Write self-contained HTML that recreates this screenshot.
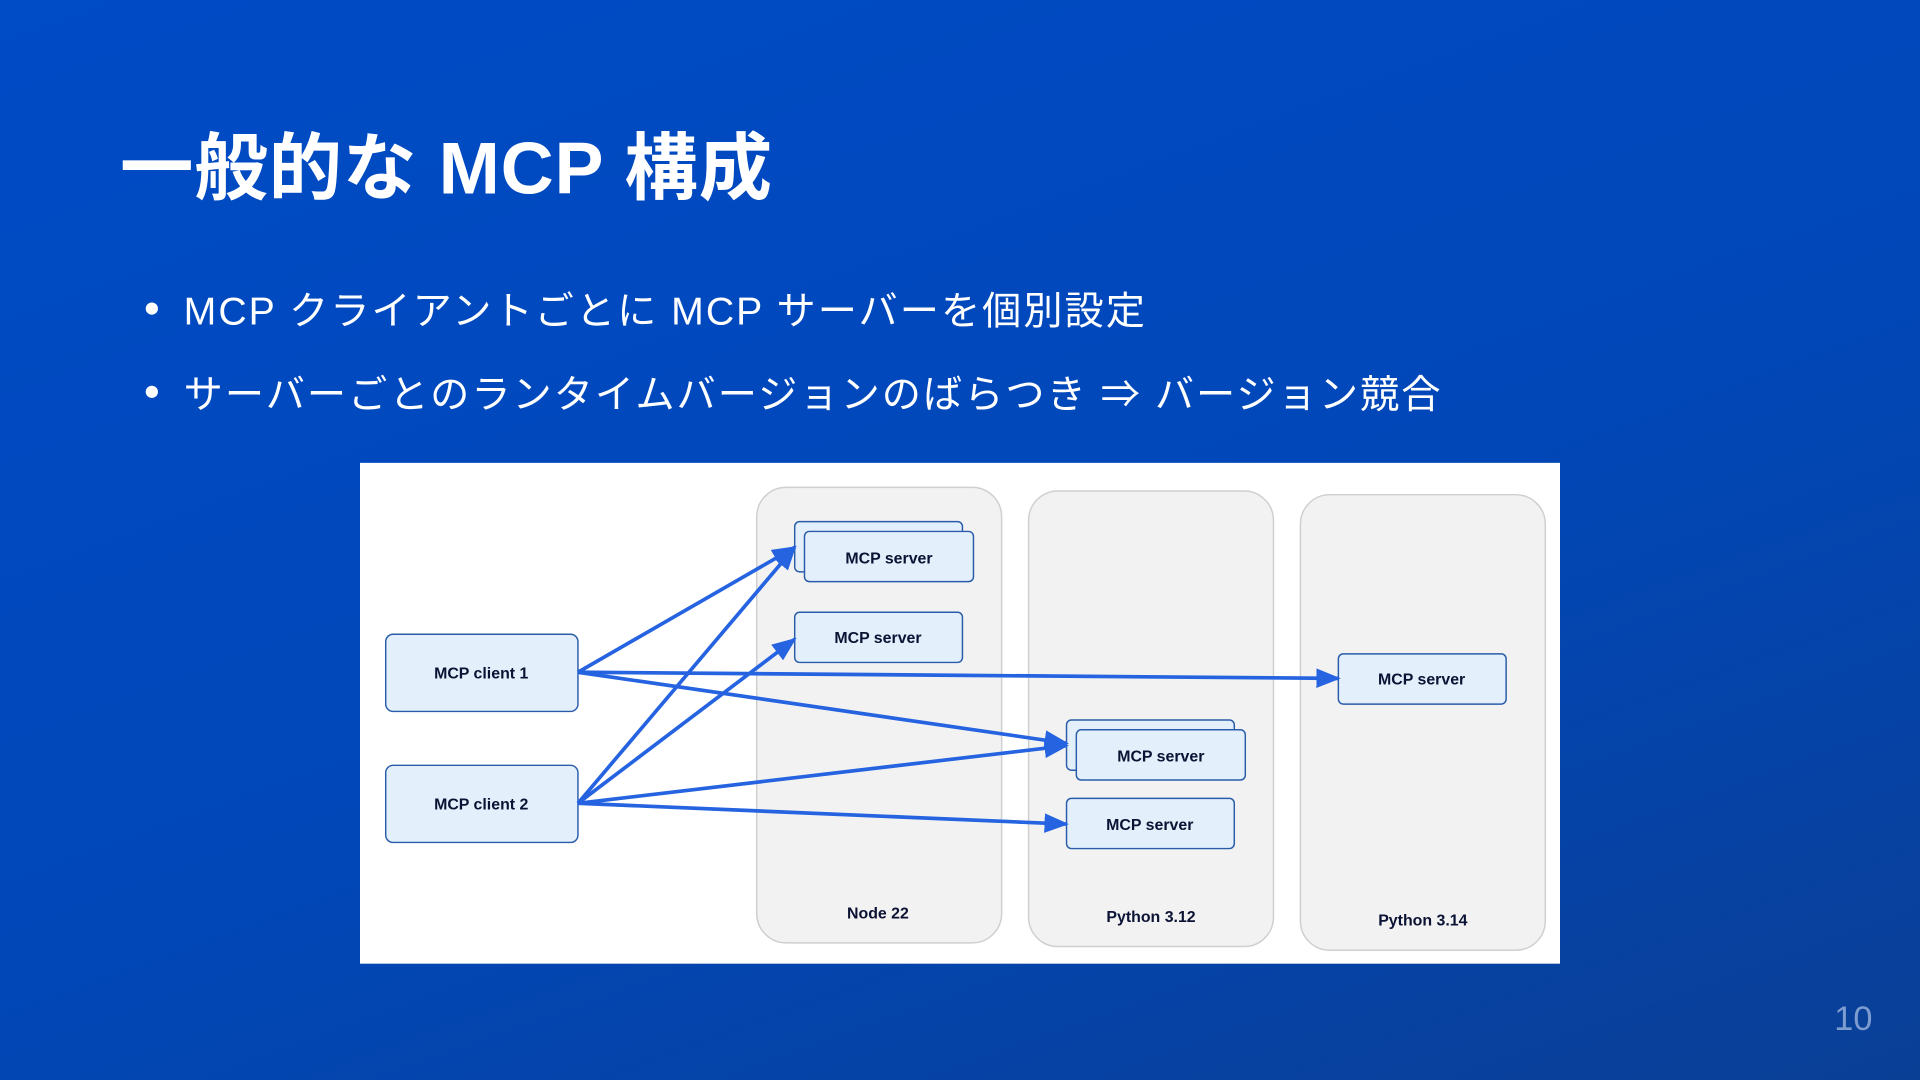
<!DOCTYPE html>
<html><head><meta charset="utf-8"><style>
html,body{margin:0;padding:0;width:1920px;height:1080px;overflow:hidden}
body{background:linear-gradient(160deg,#004bc6 0%,#0147b8 55%,#0a3f96 100%);}
#s{position:absolute;left:0;top:0;width:1568px;height:882px;transform:scale(1.22449);transform-origin:0 0;font-family:"Liberation Sans","Noto Sans CJK JP",sans-serif;color:#fff}
h1{position:absolute;left:98px;top:89px;margin:0;font-size:60px;font-weight:bold;letter-spacing:0.7px;white-space:nowrap}
.b{position:absolute;left:150px;font-size:32px;letter-spacing:1.65px;white-space:nowrap}
.d{position:absolute;left:119px;width:10px;height:10px;border-radius:50%;background:#fff}
.n{position:absolute;left:1498px;top:816px;font-size:28px;color:#7d9ccf}
</style></head><body><div id="s">
<h1>一般的な MCP 構成</h1>
<div class="d" style="top:247px"></div><div class="b" style="top:229px">MCP クライアントごとに MCP サーバーを個別設定</div>
<div class="d" style="top:315px"></div><div class="b" style="top:297px">サーバーごとのランタイムバージョンのばらつき ⇒ バージョン競合</div>
<svg style="position:absolute;left:0;top:0" width="1568" height="882" font-family="Liberation Sans, sans-serif" font-weight="bold" font-size="13" text-anchor="middle">
<defs>
<marker id="m" viewBox="0 0 10 10" refX="9" refY="5" markerWidth="20" markerHeight="16" orient="auto" markerUnits="userSpaceOnUse" preserveAspectRatio="none"><path d="M0,0L10,5L0,10z" fill="#2563e0"/></marker></defs>
<rect x="294" y="378" width="980" height="409" fill="#fff"/>
<g fill="#f2f2f2" stroke="#cfcfcf" stroke-width="1.2">
<rect x="618" y="398" width="200" height="372" rx="24"/>
<rect x="840" y="401" width="200" height="372" rx="24"/>
<rect x="1062" y="404" width="200" height="372" rx="24"/>
</g>
<g fill="#0b1233">
<text x="717" y="750">Node 22</text><text x="940" y="753">Python 3.12</text><text x="1162" y="756">Python 3.14</text>
</g>
<g fill="#e3f0fb" stroke="#2a5caa" stroke-width="1.2">
<rect x="315" y="518" width="157" height="63" rx="6"/>
<rect x="315" y="625" width="157" height="63" rx="6"/>
<rect x="649" y="426" width="137" height="41" rx="4"/>
<rect x="657" y="434" width="138" height="41" rx="4"/>
<rect x="649" y="500" width="137" height="41" rx="4"/>
<rect x="871" y="588" width="137" height="41" rx="4"/>
<rect x="879" y="596" width="138" height="41" rx="4"/>
<rect x="871" y="652" width="137" height="41" rx="4"/>
<rect x="1093" y="534" width="137" height="41" rx="4"/>
</g>
<g fill="#0b1233">
<text x="393" y="554">MCP client 1</text><text x="393" y="661">MCP client 2</text>
<text x="726" y="460">MCP server</text><text x="717" y="525">MCP server</text>
<text x="948" y="622">MCP server</text><text x="939" y="678">MCP server</text>
<text x="1161" y="559">MCP server</text>
</g>
<g stroke="#2563e0" stroke-width="3" fill="none" marker-end="url(#m)">
<line x1="472" y1="549" x2="649" y2="447"/>
<line x1="472" y1="549" x2="1093" y2="554"/>
<line x1="472" y1="549" x2="871" y2="607"/>
<line x1="472" y1="656" x2="649" y2="447"/>
<line x1="472" y1="656" x2="649" y2="522"/>
<line x1="472" y1="656" x2="871" y2="609"/>
<line x1="472" y1="656" x2="871" y2="673"/>
</g>
</svg>
<div class="n">10</div>
</div></body></html>
